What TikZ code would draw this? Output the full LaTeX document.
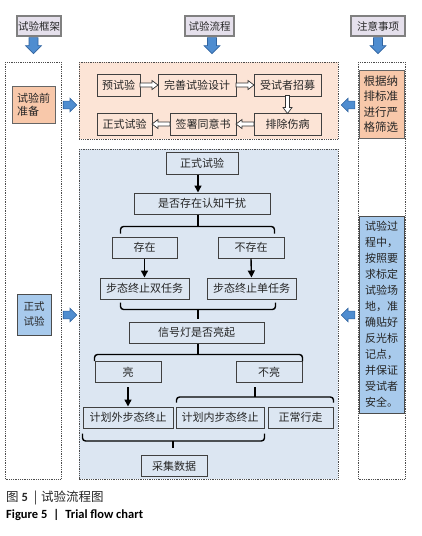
\documentclass[tikz,border=0pt]{standalone}
\usepackage{fontspec}
\setmainfont{Liberation Sans}
\newfontfamily\cjk{Noto Sans CJK SC}
\newfontfamily\capfont{Carlito}
\usetikzlibrary{calc,arrows.meta}
\definecolor{hdrfill}{RGB}{229,224,236}
\definecolor{peach}{RGB}{252,228,214}
\definecolor{lblue}{RGB}{220,230,242}
\definecolor{orbox}{RGB}{248,200,170}
\definecolor{blbox}{RGB}{168,202,236}
\definecolor{arrfill}{RGB}{79,141,208}
\definecolor{arrdraw}{RGB}{49,100,160}
\tikzset{
  box/.style={draw=black!75, line width=1pt, inner sep=0pt, font=\cjk\fontsize{11}{13}\selectfont, text=black!85, minimum height=21},
  hdr/.style={box, draw=black!50, fill=hdrfill, line width=1.3pt, font=\cjk\fontsize{10.5}{12}\selectfont, minimum height=20},
  region/.style={draw=black!70, densely dotted, line width=0.8pt},
  conn/.style={line width=1.4pt, black},
  arr/.style={conn, -{Triangle[length=7pt,width=7pt]}},
  pics/hollow/.style={code={\draw[draw=black!80, fill=white, line width=0.7pt] (-9,-2) -- (3,-2) -- (3,-4.5) -- (9,0) -- (3,4.5) -- (3,2) -- (-9,2) -- cycle;}},
  pics/bluearrow/.style={code={\draw[draw=arrdraw, fill=arrfill, line width=0.6pt] (-8,-4.5) -- (0,-4.5) -- (0,-8) -- (8,0) -- (0,8) -- (0,4.5) -- (-8,4.5) -- cycle;}},
}
\begin{document}
\begin{tikzpicture}[x=1pt,y=-1pt]
\useasboundingbox[fill=white] (0,0) rectangle (421,536);
% regions
\draw[region] (5,62) rectangle (61,479);
\draw[region, fill=peach] (79,62) rectangle (338,139);
\draw[region, fill=lblue] (79,149) rectangle (338,479);
\draw[region] (358,62) rectangle (405,479);
% headers
\node[hdr, minimum width=44] (h1) at (39,26) {试验框架};
\node[hdr, minimum width=49] (h2) at (209.5,26) {试验流程};
\node[hdr, minimum width=54] (h3) at (378,26) {注意事项};
\pic[rotate=-90] at ($(h1.south)+(-5.5,9)$) {bluearrow};
\pic[rotate=-90] at ($(h2.south)+(2.5,9)$) {bluearrow};
\pic[rotate=-90] at ($(h3.south)+(0,9)$) {bluearrow};
% left column
\node[box, fill=orbox, draw=black!60, minimum width=43, minimum height=37, align=left] (pre) at (33.5,104.5) {试验前\\准备};
\node[box, fill=blbox, draw=black!70, minimum width=34, minimum height=41, align=center, font=\cjk\fontsize{10.5}{15}\selectfont] (form) at (34,314.5) {正式\\试验};
\pic[scale=0.85] at (70,105) {bluearrow};
\pic[scale=0.85] at (70,315) {bluearrow};
% right column
\node[box, fill=orbox, draw=black!60, minimum width=45, minimum height=68, text width=36, align=left, font=\cjk\fontsize{11.5}{15.5}\selectfont] (crit) at (381.5,104) {根据纳\\排标准\\进行严\\格筛选};
\node[box, fill=blbox, draw=black!70, minimum width=45, minimum height=197, text width=33, align=left, font=\cjk\fontsize{11}{16}\selectfont] (note) at (381.5,314.5) {试验过\\程中，\\按照要\\求标定\\试验场\\地，准\\确贴好\\反光标\\记点，\\并保证\\受试者\\安全。};
\pic[scale=0.85, rotate=180] at (348,105) {bluearrow};
\pic[scale=0.85, rotate=180] at (348,315) {bluearrow};
% top flow
\node[box, minimum width=43, minimum height=22] (p1t) at (118.5,85) {预试验};
\node[box, minimum width=78, minimum height=22] (p2t) at (197,85) {完善试验设计};
\node[box, minimum width=67, minimum height=22] (p3t) at (287.5,85) {受试者招募};
\node[box, minimum width=67, minimum height=22] (p4t) at (287.5,124) {排除伤病};
\node[box, minimum width=66, minimum height=22] (p5t) at (203,124) {签署同意书};
\node[box, minimum width=55, minimum height=22] (p6t) at (124.5,124) {正式试验};
\pic at ($(p1t.east)!0.5!(p2t.west)$) {hollow};
\pic at ($(p2t.east)!0.5!(p3t.west)$) {hollow};
\pic[rotate=-90] at ($(p3t.south)!0.5!(p4t.north)$) {hollow};
\pic[rotate=180] at ($(p4t.west)!0.5!(p5t.east)$) {hollow};
\pic[rotate=180] at ($(p5t.west)!0.5!(p6t.east)$) {hollow};
% main flow
\node[box, minimum width=72, minimum height=22] (f1) at (202,163) {正式试验};
\node[box, minimum width=136] (q1) at (202,203.5) {是否存在认知干扰};
\node[box, minimum width=65] (yes) at (144.5,247.5) {存在};
\node[box, minimum width=66] (no) at (251,247.5) {不存在};
\node[box, minimum width=89] (g1) at (144.5,288.5) {步态终止双任务};
\node[box, minimum width=89] (g2) at (251.5,288.5) {步态终止单任务};
\node[box, minimum width=135] (sig) at (196.5,332.5) {信号灯是否亮起};
\node[box, minimum width=66] (light) at (128,372) {亮};
\node[box, minimum width=66] (nolight) at (269,372) {不亮};
\node[box, minimum width=90] (o1) at (128,417.5) {计划外步态终止};
\node[box, minimum width=88] (o2) at (220,417.5) {计划内步态终止};
\node[box, minimum width=65] (o3) at (300.5,417.5) {正常行走};
\node[box, minimum width=66] (col) at (174,466) {采集数据};
% connectors
\draw[arr] ([xshift=-4pt]f1.south) -- ([xshift=-4pt]q1.north);
\draw[conn] ([xshift=-4pt]q1.south) -- ++(0,12);
\draw[conn, rounded corners=3] ($(yes.north west)+(9,-3)$) |- ($(q1.south)+(0,12)$) -| ($(no.north east)+(-10,-3)$);
\draw[arr] (yes.south) -- (g1.north);
\draw[arr] (no.south) -- (g2.north);
\draw[conn, rounded corners=3] ($(g1.south west)+(21,3)$) |- ($(sig.north)+(1.5,-12)$) -| ($(g2.south east)+(-21,3)$);
\draw[conn] ($(sig.north)+(1.5,-12)$) -- ($(sig.north)+(1.5,-3)$);
\draw[conn] ($(sig.south)+(1.5,0)$) -- ++(0,11);
\draw[conn, rounded corners=3] (light.north west) |- ($(sig.south)+(1.5,11)$) -| (nolight.north east);
\draw[arr] ($(light.south)+(0,4)$) -- (o1.north);
\draw[conn] ($(nolight.south)+(-14,4)$) -- ++(0,10);
\draw[conn, rounded corners=3] ($(o2.north west)+(1,-4)$) |- ($(nolight.south)+(-14,14)$) -| ($(o3.north east)+(0,-4)$);
\draw[conn, rounded corners=3] ($(o1.south west)+(0,5)$) |- ($(col.north)+(-1,-14)$) -| ($(o2.south east)+(0,5)$);
\draw[conn] ($(col.north)+(-1,-14)$) -- ($(col.north)+(-1,-7)$);
% caption
\node[anchor=west, inner sep=0pt, font=\cjk\fontsize{12.5}{14}\selectfont, text=black!85] (cap1) at (6,498) {图 {\capfont\bfseries 5}\hspace{6pt}|\hspace{4pt}试验流程图};
\node[anchor=west, inner sep=0pt, font=\capfont\bfseries\fontsize{12.5}{14}\selectfont] (cap2) at (6,515) {Figure 5\hspace{6pt}|\hspace{6pt}Trial flow chart};
\end{tikzpicture}
\end{document}
